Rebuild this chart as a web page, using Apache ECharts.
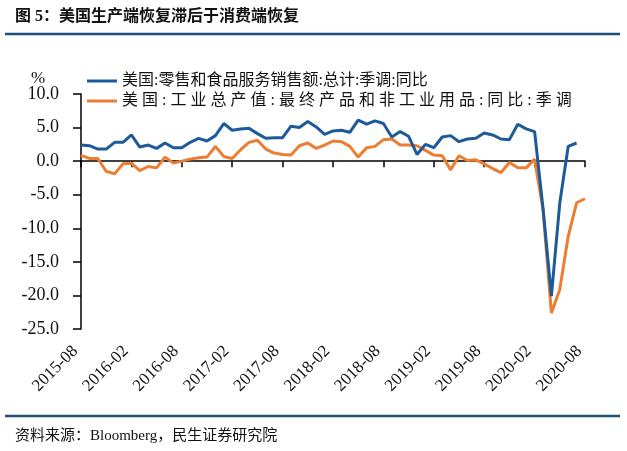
<!DOCTYPE html>
<html>
<head>
<meta charset="utf-8">
<script src="https://cdn.jsdelivr.net/npm/echarts@6/dist/echarts.min.js"></script>
<style>
  html, body { margin: 0; padding: 0; background: #fff; }
  #chart { width: 627px; height: 451px; }
</style>
</head>
<body>
<div id="chart"></div>
<script>
// 月份（2015-08 到 2020-08）
const months = [
  '2015-08', '2015-09', '2015-10', '2015-11', '2015-12',
  '2016-01', '2016-02', '2016-03', '2016-04', '2016-05', '2016-06', '2016-07', '2016-08', '2016-09', '2016-10', '2016-11', '2016-12',
  '2017-01', '2017-02', '2017-03', '2017-04', '2017-05', '2017-06', '2017-07', '2017-08', '2017-09', '2017-10', '2017-11', '2017-12',
  '2018-01', '2018-02', '2018-03', '2018-04', '2018-05', '2018-06', '2018-07', '2018-08', '2018-09', '2018-10', '2018-11', '2018-12',
  '2019-01', '2019-02', '2019-03', '2019-04', '2019-05', '2019-06', '2019-07', '2019-08', '2019-09', '2019-10', '2019-11', '2019-12',
  '2020-01', '2020-02', '2020-03', '2020-04', '2020-05', '2020-06', '2020-07', '2020-08'
];

const retailName = '美国:零售和食品服务销售额:总计:季调:同比';
const industryName = '美国:工业总产值:最终产品和非工业用品:同比:季调';

// 零售同比
const retail = [
  2.4, 2.3, 1.8, 1.8, 2.8,
  2.8, 3.9, 2.1, 2.4, 1.9, 2.7, 2.0, 2.0, 2.8, 3.4, 3.0, 3.8,
  5.6, 4.6, 4.8, 4.9, 4.1, 3.4, 3.5, 3.5, 5.2, 5.0, 5.9, 5.1,
  4.0, 4.5, 4.6, 4.3, 6.1, 5.5, 6.0, 5.6, 3.6, 4.4, 3.7, 1.0,
  2.5, 2.0, 3.6, 3.8, 2.9, 3.3, 3.4, 4.2, 3.9, 3.3, 3.2, 5.5,
  4.8, 4.4, -7.0, -20.1, -6.2, 2.2, 2.7, null
];

// 工业总产值同比
const industry = [
  0.85, 0.4, 0.4, -1.5, -1.9,
  -0.4, -0.3, -1.4, -0.8, -1.0, 0.6, -0.3, 0.0, 0.3, 0.5, 0.6, 2.2,
  0.7, 0.4, 1.7, 2.8, 3.1, 1.8, 1.2, 1.0, 0.9, 2.3, 2.7, 1.9,
  2.4, 3.0, 2.9, 2.2, 0.6, 2.0, 2.2, 3.2, 3.3, 2.4, 2.4, 2.3,
  1.6, 0.9, 0.8, -1.3, 0.8, 0.1, 0.2, -0.4, -1.1, -1.7, -0.2, -1.0,
  -1.0, 0.3, -7.2, -22.6, -19.1, -11.2, -6.2, -5.6
];

const yMin = -25;
const yMax = 10;
const yStep = 5;

const serif = "'Liberation Serif', 'Noto Sans CJK SC', serif";
const blue = '#1c5a99';
const orange = '#ed7d31';
const frame = '#1f4e79';

let chartDom = document.getElementById('chart');
let myChart = echarts.init(chartDom);
let option;

option = {
    animation: false,
    textStyle: { fontFamily: serif },
    grid: { left: 81, right: 42, top: 94, bottom: 122 },
    legend: {
        orient: 'vertical',
        left: 82,
        top: 68,
        itemGap: 4,
        itemWidth: 30,
        itemHeight: 3,
        icon: 'rect',
        textStyle: { fontSize: 16, color: '#111', fontFamily: serif },
        // 第二条图例在原图中字距较宽
        formatter: name => name === industryName ? name.split('').join('\u2005') : name,
        data: [retailName, industryName]
    },
    graphic: [
        {
            type: 'text', left: 15, top: 9,
            style: { text: '图 5：美国生产端恢复滞后于消费端恢复', font: 'bold 16px ' + serif, fill: '#111' }
        },
        {
            type: 'line', shape: { x1: 5, y1: 34, x2: 620, y2: 34 },
            style: { stroke: frame, lineWidth: 2.5 }
        },
        {
            type: 'text', left: 31, top: 70,
            style: { text: '%', font: '17px ' + serif, fill: '#111' }
        },
        {
            type: 'line', shape: { x1: 5, y1: 416, x2: 620, y2: 416 },
            style: { stroke: frame, lineWidth: 2.5 }
        },
        {
            type: 'text', left: 15, top: 429,
            style: { text: '资料来源：Bloomberg，民生证券研究院', font: '15px ' + serif, fill: '#111' }
        }
    ],
    xAxis: [
        {
            type: 'category',
            data: months,
            boundaryGap: false,
            position: 'bottom',
            axisLine: { onZero: true, lineStyle: { color: '#000', width: 1.5 } },
            axisTick: { interval: 5, length: 6, lineStyle: { color: '#000', width: 1.5 } },
            axisLabel: { show: false },
            splitLine: { show: false }
        },
        {
            type: 'category',
            data: months,
            boundaryGap: false,
            position: 'bottom',
            axisLine: { show: false, onZero: false },
            axisTick: { show: false },
            axisLabel: { interval: 5, rotate: 45, margin: 14, padding: [0, 8, 0, 0], fontSize: 17, color: '#111', fontFamily: serif },
            splitLine: { show: false }
        }
    ],
    yAxis: {
        type: 'value',
        min: yMin,
        max: yMax,
        interval: yStep,
        axisLine: { show: true, lineStyle: { color: '#000', width: 1.5 } },
        axisTick: { show: true, length: 8, lineStyle: { color: '#000', width: 1.5 } },
        axisLabel: { margin: 22, fontSize: 18, color: '#111', fontFamily: serif, formatter: v => v.toFixed(1) },
        splitLine: { show: false }
    },
    series: [
        {
            name: retailName,
            type: 'line',
            data: retail,
            showSymbol: false,
            symbol: 'none',
            lineStyle: { color: blue, width: 3 },
            itemStyle: { color: blue },
            z: 3
        },
        {
            name: industryName,
            type: 'line',
            data: industry,
            showSymbol: false,
            symbol: 'none',
            lineStyle: { color: orange, width: 3 },
            itemStyle: { color: orange },
            z: 2
        }
    ]
};

option && myChart.setOption(option);
</script>
</body>
</html>
